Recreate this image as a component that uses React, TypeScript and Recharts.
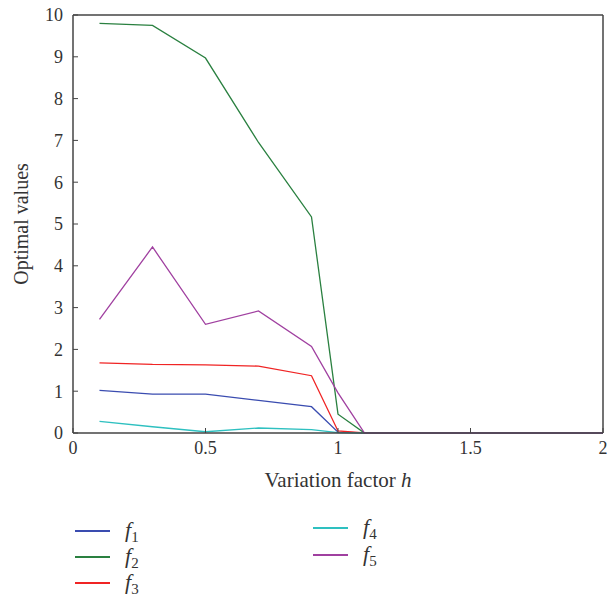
import React from "react";
import { ComposedChart, Line, XAxis, YAxis } from "recharts";

const hValues = [0.1, 0.3, 0.5, 0.7, 0.9, 1.0, 1.1, 1.3, 1.5, 1.7, 1.9, 2.0];
const f1 = [1.02, 0.93, 0.93, 0.78, 0.63, 0.02, 0, 0, 0, 0, 0, 0];
const f2 = [9.8, 9.75, 8.97, 6.95, 5.17, 0.45, 0, 0, 0, 0, 0, 0];
const f3 = [1.68, 1.64, 1.63, 1.6, 1.37, 0.05, 0, 0, 0, 0, 0, 0];
const f4 = [0.28, 0.15, 0.03, 0.12, 0.08, 0.01, 0, 0, 0, 0, 0, 0];
const f5 = [2.72, 4.45, 2.6, 2.92, 2.07, 0.96, 0, 0, 0, 0, 0, 0];
const xTicks = [0, 0.5, 1, 1.5, 2];
const yTicks = [0, 1, 2, 3, 4, 5, 6, 7, 8, 9, 10];

const seriesNames = ["f1", "f2", "f3", "f4", "f5"];
const seriesColors = ["#3a4cb0", "#2a8040", "#f02424", "#2ec0c0", "#a040a0"];
const seriesValues = [f1, f2, f3, f4, f5];

const data = hValues.map((h, i) => {
  const row: Record<string, number> = { h };
  seriesNames.forEach((n, k) => (row[n] = seriesValues[k][i]));
  return row;
});

const FONT = "'Liberation Serif', 'DejaVu Serif', serif";
const AXIS = "#444";

const LegendItem = ({ idx, left, top }: { idx: number; left: number; top: number }) => (
  <div style={{ position: "absolute", left, top, height: 24, width: 120 }}>
    <div
      style={{
        position: "absolute",
        left: 0,
        top: 10,
        width: 35,
        height: 2,
        background: seriesColors[idx],
      }}
    />
    <div
      style={{
        position: "absolute",
        left: 50,
        top: -3,
        fontFamily: FONT,
        fontSize: 22,
        color: "#333",
        whiteSpace: "nowrap",
        lineHeight: "26px",
      }}
    >
      <i>f</i>
      <sub style={{ fontSize: 15 }}>{idx + 1}</sub>
    </div>
  </div>
);

export default function App() {
  return (
    <div style={{ position: "absolute", left: 0, top: 0, width: 613, height: 599, background: "#fff" }}>
      <ComposedChart
        width={613}
        height={500}
        data={data}
        margin={{ top: 14, right: 9, bottom: 0, left: 0 }}
        style={{ fontFamily: FONT }}
      >
        <XAxis
          xAxisId="bottom"
          dataKey="h"
          type="number"
          domain={[0, 2]}
          ticks={xTicks}
          height={67}
          tickSize={-5}
          tickMargin={13}
          stroke={AXIS}
          tick={{ fill: "#333", fontSize: 18, fontFamily: FONT }}
          axisLine={{ stroke: AXIS, strokeWidth: 1.5 }}
          tickLine={{ stroke: AXIS }}
          label={{
            value: "Variation factor h",
            position: "insideBottom",
            offset: 0,
            content: () => (
              <text x={338} y={487} textAnchor="middle" fontSize={21} fill="#333" fontFamily={FONT}>
                Variation factor <tspan fontStyle="italic">h</tspan>
              </text>
            ),
          }}
        />
        <XAxis
          xAxisId="top"
          orientation="top"
          dataKey="h"
          type="number"
          domain={[0, 2]}
          ticks={xTicks}
          height={1}
          tickSize={-5}
          tick={false}
          stroke={AXIS}
          axisLine={{ stroke: AXIS, strokeWidth: 1.5 }}
          tickLine={{ stroke: AXIS }}
        />
        <YAxis
          yAxisId="left"
          type="number"
          domain={[0, 10]}
          ticks={yTicks}
          width={73}
          tickSize={-5}
          tickMargin={15}
          stroke={AXIS}
          tick={{ fill: "#333", fontSize: 18, fontFamily: FONT }}
          axisLine={{ stroke: AXIS, strokeWidth: 1.5 }}
          tickLine={{ stroke: AXIS }}
          label={{
            value: "Optimal values",
            angle: -90,
            position: "insideLeft",
            content: () => (
              <text
                x={28}
                y={224}
                transform="rotate(-90 28 224)"
                textAnchor="middle"
                fontSize={20}
                fill="#333"
                fontFamily={FONT}
              >
                Optimal values
              </text>
            ),
          }}
        />
        <YAxis
          yAxisId="right"
          orientation="right"
          type="number"
          domain={[0, 10]}
          ticks={yTicks}
          width={1}
          tickSize={-5}
          tick={false}
          stroke={AXIS}
          axisLine={{ stroke: AXIS, strokeWidth: 1.5 }}
          tickLine={{ stroke: AXIS }}
        />
        {seriesNames.map((n, k) => (
          <Line
            key={n}
            xAxisId="bottom"
            yAxisId="left"
            dataKey={n}
            type="linear"
            stroke={seriesColors[k]}
            strokeWidth={1.3}
            dot={false}
            activeDot={false}
            isAnimationActive={false}
          />
        ))}
      </ComposedChart>
      <LegendItem idx={0} left={75} top={520} />
      <LegendItem idx={1} left={75} top={546} />
      <LegendItem idx={2} left={75} top={572} />
      <LegendItem idx={3} left={313} top={517} />
      <LegendItem idx={4} left={313} top={544} />
    </div>
  );
}
